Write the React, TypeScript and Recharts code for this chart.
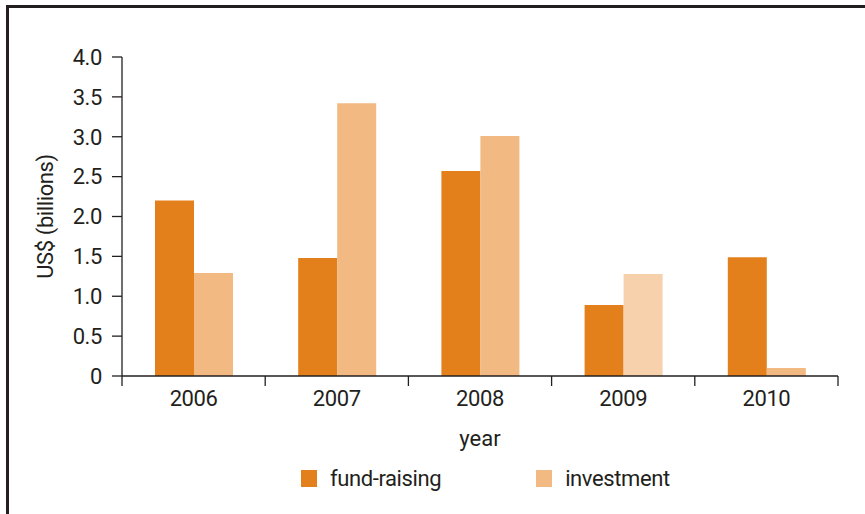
import React from 'react';
import { BarChart, Bar, XAxis, YAxis, Cell, Legend, Label } from 'recharts';

const years = ['2006', '2007', '2008', '2009', '2010'];
const fundRaising = [2.2, 1.48, 2.57, 0.89, 1.49];
const investment = [1.29, 3.42, 3.01, 1.28, 0.1];
const yTicks = [0, 0.5, 1, 1.5, 2, 2.5, 3, 3.5, 4];

const FUND = '#e3801c';
const INVEST = '#f2b982';
const INVEST_PALE = '#f7d0ac'; // 2009 is drawn lighter in the source
const INK = '#231f20';
const FONT = 'Roboto, "DejaVu Sans Condensed", sans-serif';
const FS = 22;

const data = years.map((year, i) => ({
  year,
  fundRaising: fundRaising[i],
  investment: investment[i],
}));

// category ticks sit on band edges, not centres
function YearTick(props: any) {
  const { x, y, payload, index } = props;
  const half = payload && payload.offset ? payload.offset : 71.5;
  const axisY = y - 14;
  return (
    <g>
      <line x1={x - half} x2={x - half} y1={axisY} y2={axisY + 10} stroke={INK} strokeWidth={1.3} />
      {index === years.length - 1 && (
        <line x1={x + half} x2={x + half} y1={axisY} y2={axisY + 10} stroke={INK} strokeWidth={1.3} />
      )}
      <text x={x} y={y} dy="0.71em" textAnchor="middle" fill={INK} fontSize={FS} fontFamily={FONT} letterSpacing={-0.4}>
        {payload.value}
      </text>
    </g>
  );
}

function LegendBox() {
  const item = (color: string, label: string, ml: number) => (
    <div style={{ display: 'flex', alignItems: 'center', marginLeft: ml }}>
      <div style={{ width: 16, height: 17, background: color, marginRight: 13 }} />
      <span style={{ fontSize: FS, color: INK, fontFamily: FONT, letterSpacing: -0.4 }}>{label}</span>
    </div>
  );
  return (
    <div style={{ display: 'flex', alignItems: 'center', height: 30, width: 865 }}>
      {item(FUND, 'fund-raising', 301)}
      {item(INVEST, 'investment', 95)}
    </div>
  );
}

export default function App() {
  return (
    <div style={{ position: 'absolute', left: 0, top: 0, width: 865, height: 514, background: '#fff' }}>
      <div
        style={{
          position: 'absolute',
          left: 6,
          top: 5,
          right: 0,
          bottom: 0,
          borderTop: `3px solid ${INK}`,
          borderLeft: `3px solid ${INK}`,
        }}
      />
      <BarChart
        width={865}
        height={514}
        data={data}
        margin={{ top: 57, right: 27, left: 0, bottom: 21 }}
        barCategoryGap={33}
        barGap={0}
        style={{ position: 'absolute', left: 0, top: 0 }}
      >
        <XAxis
          dataKey="year"
          height={87}
          stroke={INK}
          strokeWidth={1.3}
          tickLine={false}
          tickSize={10}
          tickMargin={4}
          tick={<YearTick />}
          interval={0}
        >
          <Label value="year" position="insideBottom" offset={17} fill={INK} fontSize={FS} fontFamily={FONT} />
        </XAxis>
        <YAxis
          width={122}
          domain={[0, 4]}
          ticks={yTicks}
          interval={0}
          stroke={INK}
          strokeWidth={1.3}
          tickSize={10}
          tickMargin={10}
          tick={{ fill: INK, fontSize: FS, fontFamily: FONT, letterSpacing: -0.4 }}
          tickFormatter={(v: number) => (v === 0 ? '0' : v.toFixed(1))}
        >
          <Label
            value="US$ (billions)"
            angle={-90}
            position="insideLeft"
            offset={45}
            fill={INK}
            fontSize={FS}
            fontFamily={FONT}
            style={{ textAnchor: 'middle', letterSpacing: -0.4 }}
          />
        </YAxis>
        <Legend verticalAlign="bottom" content={<LegendBox />} wrapperStyle={{ left: 0, width: 865 }} />
        <Bar dataKey="fundRaising" name="fund-raising" fill={FUND} isAnimationActive={false} />
        <Bar dataKey="investment" name="investment" fill={INVEST} isAnimationActive={false}>
          {data.map((d) => (
            <Cell key={d.year} fill={d.year === '2009' ? INVEST_PALE : INVEST} />
          ))}
        </Bar>
      </BarChart>
    </div>
  );
}
